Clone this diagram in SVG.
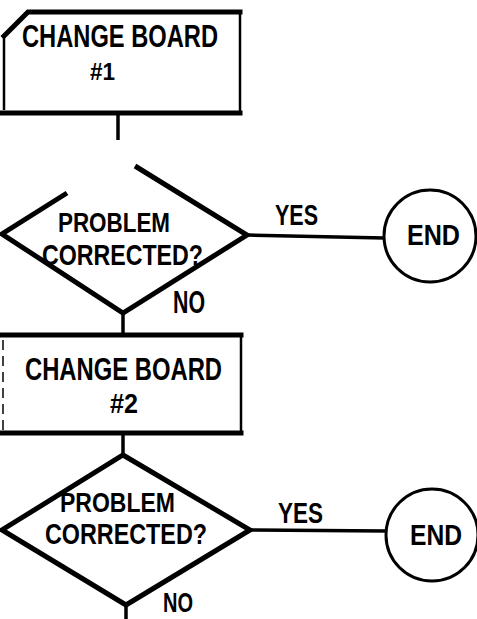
<svg xmlns="http://www.w3.org/2000/svg" width="477" height="619" viewBox="0 0 477 619">
<style>
.bg{fill:#ffffff}
.thick{fill:none;stroke:#000;stroke-width:5;stroke-linecap:square;stroke-linejoin:miter}
.thin{fill:none;stroke:#000;stroke-width:2.5}
.faint{fill:none;stroke:#000;stroke-width:1.5;stroke-dasharray:10 6}
.dia{fill:none;stroke:#000;stroke-width:5;stroke-linejoin:miter}
.conn{fill:none;stroke:#000;stroke-width:3.5}
.term{fill:none;stroke:#000;stroke-width:3}
.t{font-family:"Liberation Sans",Arial,sans-serif;font-weight:bold;fill:#000}
</style>
<rect class="bg" x="0" y="0" width="477" height="619"/>
<g id="box1">
<path class="thick" d="M4,36 L28,12 L240,12"/>
<path class="thin" d="M240,12 L240,113"/>
<path class="thick" d="M0,113 L240,113"/>
<path class="thin" d="M4,36 L4,110"/>
<text class="t" x="22" y="47" font-size="32" textLength="196" lengthAdjust="spacingAndGlyphs">CHANGE  BOARD</text>
<text class="t" x="90" y="80" font-size="24" textLength="25" lengthAdjust="spacingAndGlyphs">#1</text>
</g>
<g id="decision1">
<path class="dia" d="M67,193 L2,234 L123,313 L247,235 L135,166"/>
<text class="t" x="58" y="232" font-size="27" textLength="112" lengthAdjust="spacingAndGlyphs">PROBLEM</text>
<text class="t" x="42" y="265" font-size="30" textLength="161" lengthAdjust="spacingAndGlyphs">CORRECTED?</text>
</g>
<g id="end1">
<circle class="term" cx="430" cy="236" r="46"/>
<text class="t" x="407" y="245" font-size="30" textLength="53" lengthAdjust="spacingAndGlyphs">END</text>
</g>
<g id="box2">
<path class="thick" d="M0,335 L241,335"/>
<path class="thin" d="M241,335 L241,433"/>
<path class="thick" d="M0,433 L241,433"/>
<path class="faint" d="M3,340 L3,430"/>
<text class="t" x="25" y="380" font-size="32" textLength="197" lengthAdjust="spacingAndGlyphs">CHANGE  BOARD</text>
<text class="t" x="110" y="413" font-size="28" textLength="28" lengthAdjust="spacingAndGlyphs">#2</text>
</g>
<g id="decision2">
<path class="dia" d="M123,455 L250,530 L126,605 L2,530 Z"/>
<text class="t" x="60" y="512" font-size="27" textLength="115" lengthAdjust="spacingAndGlyphs">PROBLEM</text>
<text class="t" x="45" y="544" font-size="29" textLength="162" lengthAdjust="spacingAndGlyphs">CORRECTED?</text>
</g>
<g id="end2">
<circle class="term" cx="432" cy="535" r="46"/>
<text class="t" x="410" y="545" font-size="30" textLength="52" lengthAdjust="spacingAndGlyphs">END</text>
</g>
<g id="connectors">
<path class="conn" d="M118,113 L118,140"/>
<path class="conn" d="M247,235 L384,238"/>
<path class="conn" d="M123,313 L123,335"/>
<path class="conn" d="M123,433 L123,455"/>
<path class="conn" d="M250,530 L386,531"/>
<path class="conn" d="M126,605 L126,619"/>
<text class="t" x="275" y="225" font-size="29" textLength="43" lengthAdjust="spacingAndGlyphs">YES</text>
<text class="t" x="173" y="313" font-size="31" textLength="32" lengthAdjust="spacingAndGlyphs">NO</text>
<text class="t" x="278" y="523" font-size="29" textLength="45" lengthAdjust="spacingAndGlyphs">YES</text>
<text class="t" x="163" y="612" font-size="27" textLength="30" lengthAdjust="spacingAndGlyphs">NO</text>
</g>
</svg>
